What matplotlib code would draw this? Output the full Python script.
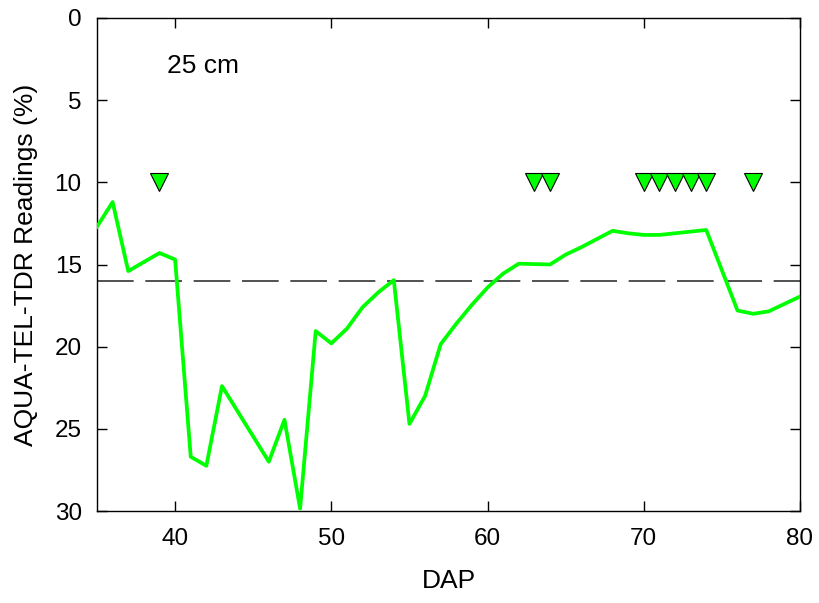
import matplotlib
matplotlib.use("Agg")
import matplotlib.pyplot as plt

plt.rcParams['font.family'] = ['Liberation Sans', 'DejaVu Sans']

dap = [35, 36, 37, 39, 40, 41, 42, 43, 46, 47, 48, 49, 50, 51, 52, 53, 54, 55, 56,
       57, 58, 59, 60, 61, 62, 64, 65, 66, 67, 68, 69, 70, 71, 72, 73, 74, 76, 77, 78, 79, 80]
readings = [12.7, 11.2, 15.4, 14.3, 14.7, 26.7, 27.25, 22.4, 27.0, 24.45, 29.85, 19.05, 19.8,
            18.9, 17.6, 16.7, 15.95, 24.7, 23.0, 19.85, 18.6, 17.45, 16.4, 15.55, 14.95, 15.0,
            14.4, 13.95, 13.45, 12.95, 13.1, 13.2, 13.2, 13.1, 13.0, 12.9, 17.8, 18.0, 17.85,
            17.4, 16.95]
event_days = [39, 63, 64, 70, 71, 72, 73, 74, 77]
event_level = 10
threshold = 16

fig = plt.figure(figsize=(8.2, 6.03), dpi=100)
ax = fig.add_axes([97/820, 1-511/603, (800-97)/820, (511-18)/603])

ax.plot(dap, readings, color='#00ff00', lw=2.7, zorder=3)
ax.axhline(threshold, color='#333333', lw=1.2, dashes=(22, 7), zorder=2)
ax.plot(event_days, [event_level]*len(event_days), linestyle='none', marker='v',
        markersize=12.5, markerfacecolor='#00ff00', markeredgecolor='black',
        markeredgewidth=0.8, zorder=4)

ax.text(39.45, 2.95, '25 cm', fontsize=19, ha='left', va='center')

ax.set_xlim(35, 80)
ax.set_ylim(30, 0)
ax.set_xticks([40, 50, 60, 70, 80])
ax.set_yticks([0, 5, 10, 15, 20, 25, 30])
ax.tick_params(direction='in', length=7, width=1, labelsize=17.5, top=True, right=True)
ax.tick_params(axis='x', pad=12)
ax.tick_params(axis='y', pad=11)
ax.set_xlabel('DAP', fontsize=19, labelpad=14)
ax.set_ylabel('AQUA-TEL-TDR Readings (%)', fontsize=19, labelpad=12)
for s in ax.spines.values():
    s.set_linewidth(1.0)

fig.savefig('out.png', dpi=100)
